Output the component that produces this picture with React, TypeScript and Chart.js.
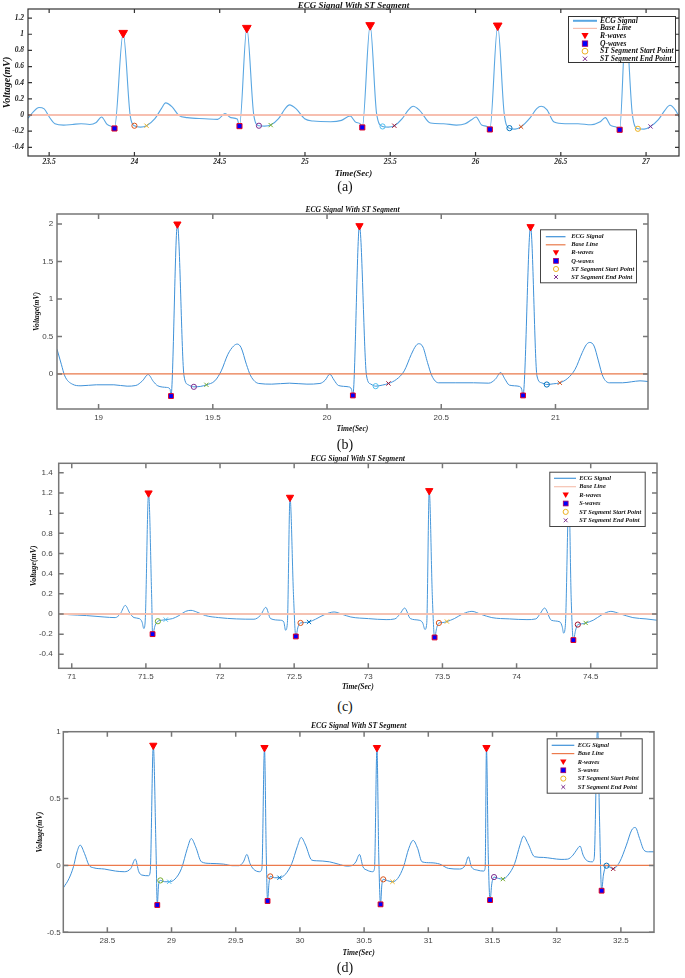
import React, { useEffect, useRef } from 'react';
import { Chart, registerables } from 'chart.js';

Chart.register(...registerables);

type Pt = [number, number];

// ---------------- Panel (a) ----------------
const ECG_A: Pt[] = [
  [23.376,-0.04],[23.407,0.038],[23.44,0.092],[23.471,0.075],[23.501,-0.025],[23.534,-0.108],[23.585,-0.125],[23.636,-0.117],[23.687,-0.108],[23.738,-0.117],[23.776,-0.092],[23.807,-0.025],[23.84,-0.117],[23.873,-0.15],[23.883,-0.167],[23.934,1.017],[23.975,-0.004],[24.0,-0.133],[24.036,-0.15],[24.071,-0.133],[24.12,-0.046],[24.158,0.079],[24.183,0.15],[24.221,0.1],[24.26,-0.004],[24.31,-0.033],[24.412,-0.046],[24.488,-0.054],[24.531,0.017],[24.565,-0.033],[24.603,-0.05],[24.616,-0.138],[24.659,1.079],[24.7,-0.004],[24.73,-0.133],[24.763,-0.138],[24.799,-0.125],[24.845,-0.046],[24.884,0.079],[24.909,0.125],[24.947,0.079],[24.998,-0.046],[25.048,-0.075],[25.15,-0.083],[25.214,-0.067],[25.265,-0.013],[25.297,-0.088],[25.323,-0.108],[25.336,-0.154],[25.382,1.113],[25.42,0.017],[25.455,-0.142],[25.488,-0.15],[25.524,-0.133],[25.57,-0.046],[25.608,0.067],[25.634,0.108],[25.672,0.058],[25.736,-0.1],[25.812,-0.108],[25.888,-0.125],[25.939,-0.108],[25.977,-0.058],[26.003,-0.025],[26.036,-0.125],[26.067,-0.142],[26.084,-0.179],[26.13,1.108],[26.168,0.017],[26.199,-0.163],[26.232,-0.175],[26.267,-0.146],[26.321,-0.033],[26.359,0.079],[26.385,0.108],[26.418,0.067],[26.461,-0.088],[26.525,-0.108],[26.601,-0.108],[26.677,-0.121],[26.728,-0.088],[26.761,-0.033],[26.792,-0.129],[26.825,-0.15],[26.845,-0.183],[26.881,1.1],[26.919,0.017],[26.952,-0.171],[26.988,-0.175],[27.026,-0.142],[27.072,-0.058],[27.11,0.058],[27.14,0.121],[27.173,0.058],[27.194,-0.025]
];
const R_A: Pt[] = [[23.934,1.017],[24.659,1.079],[25.382,1.113],[26.13,1.108],[26.881,1.1]];
const Q_A: Pt[] = [[23.883,-0.167],[24.616,-0.138],[25.336,-0.154],[26.084,-0.179],[26.845,-0.183]];
const STS_A: Pt[] = [[24.0,-0.133],[24.73,-0.133],[25.455,-0.142],[26.199,-0.163],[26.952,-0.171]];
const STE_A: Pt[] = [[24.071,-0.133],[24.799,-0.125],[25.524,-0.133],[26.267,-0.146],[27.026,-0.142]];
const STS_A_COLORS = ['#D95319','#7E2F8E','#4DBEEE','#0072BD','#EDB120'];
const STE_A_COLORS = ['#EDB120','#77AC30','#A2142F','#D95319','#7E2F8E'];

// ---------------- Panel (b) ----------------
const ECG_B: Pt[] = [
  [18.818,0.33],[18.837,0.128],[18.852,-0.027],[18.885,-0.137],[18.923,-0.159],[18.99,-0.146],[19.067,-0.146],[19.125,-0.164],[19.163,-0.155],[19.192,-0.093],[19.217,-0.009],[19.24,-0.102],[19.259,-0.159],[19.298,-0.181],[19.313,-0.204],[19.317,-0.296],[19.345,2.0],[19.374,-0.027],[19.393,-0.146],[19.417,-0.173],[19.445,-0.168],[19.472,-0.146],[19.509,-0.093],[19.537,0.04],[19.566,0.261],[19.591,0.372],[19.607,0.398],[19.624,0.35],[19.647,0.128],[19.666,-0.027],[19.701,-0.128],[19.758,-0.137],[19.835,-0.124],[19.912,-0.137],[19.969,-0.128],[19.992,-0.084],[20.012,-0.004],[20.031,-0.084],[20.05,-0.155],[20.094,-0.173],[20.107,-0.204],[20.113,-0.288],[20.142,1.978],[20.173,-0.027],[20.192,-0.137],[20.213,-0.164],[20.242,-0.15],[20.269,-0.128],[20.305,-0.071],[20.338,0.04],[20.369,0.261],[20.388,0.372],[20.401,0.403],[20.42,0.358],[20.44,0.15],[20.459,-0.027],[20.488,-0.119],[20.564,-0.119],[20.641,-0.119],[20.708,-0.124],[20.737,-0.071],[20.76,0.018],[20.779,-0.071],[20.798,-0.15],[20.843,-0.168],[20.852,-0.204],[20.858,-0.288],[20.891,1.965],[20.919,-0.027],[20.939,-0.119],[20.962,-0.142],[20.99,-0.133],[21.019,-0.119],[21.054,-0.058],[21.086,0.062],[21.117,0.283],[21.136,0.394],[21.15,0.42],[21.169,0.372],[21.188,0.173],[21.207,-0.031],[21.236,-0.119],[21.294,-0.119],[21.332,-0.106],[21.37,-0.093],[21.405,-0.102]
];
const R_B: Pt[] = [[19.345,2.0],[20.142,1.978],[20.891,1.965]];
const Q_B: Pt[] = [[19.317,-0.296],[20.113,-0.288],[20.858,-0.288]];
const STS_B: Pt[] = [[19.417,-0.173],[20.213,-0.164],[20.962,-0.142]];
const STE_B: Pt[] = [[19.472,-0.146],[20.269,-0.128],[21.019,-0.119]];
const STS_B_COLORS = ['#7E2F8E','#4DBEEE','#0072BD'];
const STE_B_COLORS = ['#77AC30','#A2142F','#D95319'];

// ---------------- Panel (c) ----------------
const ECG_C: Pt[] = [
  [70.912,0.003],[70.981,-0.007],[71.1,-0.016],[71.218,-0.03],[71.293,-0.036],[71.328,0.003],[71.361,0.085],[71.391,0.01],[71.42,-0.036],[71.456,-0.046],[71.474,-0.079],[71.486,-0.144],[71.495,-0.079],[71.518,1.2],[71.539,0.167],[71.545,-0.2],[71.563,-0.111],[71.581,-0.072],[71.608,-0.062],[71.634,-0.056],[71.679,-0.046],[71.723,-0.016],[71.768,0.026],[71.804,0.036],[71.842,0.02],[71.902,-0.016],[71.991,-0.036],[72.11,-0.049],[72.229,-0.052],[72.273,-0.013],[72.309,0.066],[72.341,-0.046],[72.407,-0.062],[72.43,-0.079],[72.442,-0.161],[72.454,-0.095],[72.472,1.157],[72.496,0.167],[72.511,-0.223],[72.526,-0.128],[72.543,-0.089],[72.57,-0.085],[72.6,-0.079],[72.644,-0.052],[72.704,-0.007],[72.769,0.02],[72.823,-0.003],[72.882,-0.03],[73.001,-0.046],[73.12,-0.056],[73.179,-0.049],[73.215,0.003],[73.245,0.059],[73.284,-0.046],[73.343,-0.062],[73.367,-0.089],[73.382,-0.154],[73.394,-0.095],[73.411,1.223],[73.432,0.167],[73.447,-0.233],[73.462,-0.134],[73.476,-0.089],[73.503,-0.085],[73.53,-0.075],[73.58,-0.046],[73.64,0.003],[73.699,0.026],[73.759,-0.003],[73.833,-0.036],[73.952,-0.049],[74.07,-0.056],[74.13,-0.049],[74.159,0.003],[74.189,0.059],[74.234,-0.062],[74.293,-0.079],[74.308,-0.128],[74.317,-0.19],[74.329,-0.111],[74.353,1.18],[74.368,0.167],[74.383,-0.259],[74.398,-0.161],[74.413,-0.105],[74.44,-0.098],[74.466,-0.089],[74.517,-0.062],[74.576,-0.007],[74.636,0.026],[74.695,0.003],[74.784,-0.036],[74.873,-0.049],[74.947,-0.062]
];
const R_C: Pt[] = [[71.518,1.2],[72.472,1.157],[73.411,1.223],[74.353,1.18]];
const S_C: Pt[] = [[71.545,-0.2],[72.511,-0.223],[73.447,-0.233],[74.383,-0.259]];
const STS_C: Pt[] = [[71.581,-0.072],[72.543,-0.089],[73.476,-0.089],[74.413,-0.105]];
const STE_C: Pt[] = [[71.634,-0.056],[72.6,-0.079],[73.53,-0.075],[74.466,-0.089]];
const STS_C_COLORS = ['#77AC30','#D95319','#D95319','#A2142F'];
const STE_C_COLORS = ['#4DBEEE','#0072BD','#EDB120','#77AC30'];

// ---------------- Panel (d) ----------------
const ECG_D: Pt[] = [
  [28.158,-0.167],[28.202,-0.097],[28.236,-0.01],[28.264,0.102],[28.288,0.152],[28.322,0.09],[28.357,0.002],[28.391,-0.017],[28.477,-0.027],[28.563,-0.042],[28.632,-0.047],[28.683,-0.022],[28.718,0.047],[28.745,-0.047],[28.769,-0.072],[28.821,-0.077],[28.834,-0.047],[28.858,0.898],[28.879,0.127],[28.889,-0.296],[28.899,-0.147],[28.913,-0.112],[28.947,-0.122],[28.982,-0.122],[29.027,-0.102],[29.078,-0.022],[29.123,0.127],[29.154,0.201],[29.188,0.139],[29.233,0.027],[29.302,0.015],[29.405,0.01],[29.474,-0.002],[29.525,-0.002],[29.56,0.027],[29.587,0.082],[29.611,0.015],[29.638,-0.027],[29.686,-0.047],[29.704,-0.022],[29.724,0.881],[29.738,0.077],[29.748,-0.266],[29.759,-0.134],[29.769,-0.082],[29.803,-0.092],[29.841,-0.092],[29.886,-0.067],[29.937,0.015],[29.979,0.139],[30.01,0.209],[30.044,0.152],[30.092,0.04],[30.127,0.035],[30.23,0.027],[30.298,0.01],[30.367,-0.005],[30.402,-0.002],[30.436,0.027],[30.464,0.082],[30.491,-0.01],[30.522,-0.035],[30.567,-0.047],[30.581,-0.022],[30.6,0.881],[30.614,0.077],[30.628,-0.291],[30.638,-0.147],[30.649,-0.104],[30.683,-0.114],[30.721,-0.122],[30.762,-0.097],[30.807,-0.01],[30.848,0.127],[30.882,0.187],[30.917,0.127],[30.951,0.027],[31.02,0.02],[31.089,0.01],[31.157,-0.022],[31.243,-0.027],[31.288,0.002],[31.312,0.065],[31.336,-0.01],[31.381,-0.035],[31.432,-0.042],[31.443,-0.017],[31.453,0.881],[31.467,0.077],[31.481,-0.259],[31.495,-0.134],[31.512,-0.087],[31.546,-0.097],[31.581,-0.102],[31.622,-0.072],[31.673,0.015],[31.714,0.152],[31.742,0.219],[31.776,0.164],[31.828,0.065],[31.896,0.06],[31.965,0.052],[32.034,0.045],[32.085,0.047],[32.127,0.077],[32.154,0.114],[32.182,0.144],[32.206,0.077],[32.23,0.04],[32.275,0.027],[32.292,0.052],[32.319,1.05],[32.333,0.376],[32.35,-0.189],[32.364,-0.072],[32.388,-0.002],[32.44,-0.025],[32.491,0.027],[32.543,0.152],[32.584,0.264],[32.612,0.284],[32.646,0.201],[32.68,0.114],[32.715,0.102],[32.756,0.102]
];
const R_D: Pt[] = [[28.858,0.898],[29.724,0.881],[30.6,0.881],[31.453,0.881],[32.319,1.05]];
const S_D: Pt[] = [[28.889,-0.296],[29.748,-0.266],[30.628,-0.291],[31.481,-0.259],[32.35,-0.189]];
const STS_D: Pt[] = [[28.913,-0.112],[29.769,-0.082],[30.649,-0.104],[31.512,-0.087],[32.388,-0.002]];
const STE_D: Pt[] = [[28.982,-0.122],[29.841,-0.092],[30.721,-0.122],[31.581,-0.102],[32.44,-0.025]];
const STS_D_COLORS = ['#77AC30','#D95319','#D95319','#7E2F8E','#0072BD'];
const STE_D_COLORS = ['#4DBEEE','#0072BD','#EDB120','#77AC30','#A2142F'];

// ---------------- Text ----------------
const TITLE = 'ECG Signal With ST Segment';
const X_TITLE = 'Time(Sec)';
const Y_TITLE = 'Voltage(mV)';
const LEGEND_Q = ['ECG Signal', 'Base Line', 'R-waves', 'Q-waves', 'ST Segment Start Point', 'ST Segment End Point'];
const LEGEND_S = ['ECG Signal', 'Base Line', 'R-waves', 'S-waves', 'ST Segment Start Point', 'ST Segment End Point'];
const CAPTIONS = ['(a)', '(b)', '(c)', '(d)'];

const SERIF = '"Liberation Serif", "Times New Roman", serif';
const SANS = '"Liberation Sans", Arial, sans-serif';
const W = 685;

const framePlugin = {
  id: 'ecgFrame',
  afterDatasetsDraw(chart: any, _a: any, o: any) {
    const { ctx, chartArea: ca } = chart;
    const xs = chart.scales.x;
    const ys = chart.scales.y;
    ctx.save();
    ctx.strokeStyle = o.color;
    ctx.lineWidth = o.width;
    ctx.beginPath();
    for (const t of xs.ticks) {
      const px = xs.getPixelForValue(t.value);
      ctx.moveTo(px, ca.bottom); ctx.lineTo(px, ca.bottom - o.len);
      ctx.moveTo(px, ca.top); ctx.lineTo(px, ca.top + o.len);
    }
    for (const t of ys.ticks) {
      const py = ys.getPixelForValue(t.value);
      ctx.moveTo(ca.left, py); ctx.lineTo(ca.left + o.len, py);
      ctx.moveTo(ca.right, py); ctx.lineTo(ca.right - o.len, py);
    }
    ctx.stroke();
    ctx.strokeRect(ca.left, ca.top, ca.right - ca.left, ca.bottom - ca.top);
    ctx.restore();
  },
};

const legendPlugin = {
  id: 'ecgLegend',
  afterDraw(chart: any, _a: any, o: any) {
    const ctx = chart.ctx;
    const off = o.offsetY;
    const [x1, y1, x2, y2] = o.box;
    ctx.save();
    ctx.fillStyle = '#ffffff';
    ctx.fillRect(x1, y1 - off, x2 - x1, y2 - y1);
    ctx.strokeStyle = o.borderColor;
    ctx.lineWidth = 1;
    ctx.strokeRect(x1 + 0.5, y1 - off + 0.5, x2 - x1 - 1, y2 - y1 - 1);
    const mx = o.markX;
    o.labels.forEach((lab: string, i: number) => {
      const y = o.rows[i] - off;
      ctx.save();
      if (i === 0 || i === 1) {
        ctx.strokeStyle = i === 0 ? o.ecgColor : o.baseColor;
        ctx.lineWidth = i === 0 ? o.ecgLegendWidth : 1.2;
        ctx.beginPath();
        ctx.moveTo(o.lineX[0], y); ctx.lineTo(o.lineX[1], y);
        ctx.stroke();
      } else if (i === 2) {
        const s = o.mark;
        ctx.fillStyle = '#FF0000';
        ctx.beginPath();
        ctx.moveTo(mx - s, y - s * 0.8); ctx.lineTo(mx + s, y - s * 0.8); ctx.lineTo(mx, y + s * 0.9);
        ctx.closePath(); ctx.fill();
      } else if (i === 3) {
        const s = o.mark * 0.75;
        ctx.fillStyle = '#0000FF';
        ctx.strokeStyle = '#B00060';
        ctx.lineWidth = 0.8;
        ctx.fillRect(mx - s, y - s, 2 * s, 2 * s);
        ctx.strokeRect(mx - s, y - s, 2 * s, 2 * s);
      } else if (i === 4) {
        ctx.strokeStyle = '#EDB120';
        ctx.lineWidth = 1;
        ctx.beginPath(); ctx.arc(mx, y, o.mark * 0.8, 0, Math.PI * 2); ctx.stroke();
      } else {
        const s = o.mark * 0.6;
        ctx.strokeStyle = '#7E2F8E';
        ctx.lineWidth = 1;
        ctx.beginPath();
        ctx.moveTo(mx - s, y - s); ctx.lineTo(mx + s, y + s);
        ctx.moveTo(mx + s, y - s); ctx.lineTo(mx - s, y + s);
        ctx.stroke();
      }
      ctx.restore();
      ctx.font = o.font;
      ctx.fillStyle = '#111111';
      ctx.textAlign = 'left';
      ctx.textBaseline = 'middle';
      ctx.fillText(lab, o.textX, y);
    });
    ctx.restore();
  },
};

type Panel = {
  top: number; height: number; L: number; R: number; T: number; B: number;
  xMin: number; xMax: number; yMin: number; yMax: number; yStep: number;
  ecg: Pt[]; r: Pt[]; qs: Pt[]; sts: Pt[]; ste: Pt[]; stsColors: string[]; steColors: string[];
  legendLabels: string[];
  titleSize: number; titlePad: { top: number; bottom: number };
  tickFont: any; tickColor: string; xTickPad: number; yTickPad: number;
  axisTitleFont: any; xTitlePadBottom: number; yTitleSize: number; yTitlePadTop: number;
  ecgColor: string; ecgWidth: number; baseColor: string; baseWidth: number;
  frameColor: string; frameWidth: number; tickLen: number;
  rRadius: number; qRadius: number; stRadius: number;
  legend: { box: number[]; rows: number[]; lineX: number[]; markX: number; textX: number; font: string; mark: number; border: string; ecgW: number };
};

const fmt = (v: any) => String(Math.round(Number(v) * 1000) / 1000);

const PANELS: Panel[] = [
  {
    top: 0, height: 182, L: 28, R: 683, T: 9, B: 156,
    xMin: 23.376, xMax: 27.193, yMin: -0.508, yMax: 1.313, yStep: 0.2,
    ecg: ECG_A, r: R_A, qs: Q_A, sts: STS_A, ste: STE_A, stsColors: STS_A_COLORS, steColors: STE_A_COLORS,
    legendLabels: LEGEND_Q,
    titleSize: 9, titlePad: { top: 1, bottom: -1 },
    tickFont: { family: SERIF, size: 7.5, weight: 'bold', style: 'italic', lineHeight: 1 }, tickColor: '#222',
    xTickPad: 2.5, yTickPad: 4,
    axisTitleFont: { family: SERIF, size: 9, weight: 'bold', style: 'italic', lineHeight: 1 },
    xTitlePadBottom: 3.5, yTitleSize: 10, yTitlePadTop: 2,
    ecgColor: '#5AA7E2', ecgWidth: 1.1, baseColor: '#F7BFB0', baseWidth: 2,
    frameColor: '#333', frameWidth: 1.2, tickLen: 4,
    rRadius: 5, qRadius: 3.6, stRadius: 2.6,
    legend: { box: [568, 16, 676, 63], rows: [20.8, 28.4, 36, 43.6, 51.2, 58.8], lineX: [573, 597], markX: 585, textX: 600,
      font: 'italic bold 7.6px ' + SERIF, mark: 3.6, border: '#333', ecgW: 2 },
  },
  {
    top: 200, height: 236, L: 57, R: 648, T: 214, B: 409,
    xMin: 18.818, xMax: 21.405, yMin: -0.469, yMax: 2.135, yStep: 0.5,
    ecg: ECG_B, r: R_B, qs: Q_B, sts: STS_B, ste: STE_B, stsColors: STS_B_COLORS, steColors: STE_B_COLORS,
    legendLabels: LEGEND_Q,
    titleSize: 7.6, titlePad: { top: 6.2, bottom: 0.2 },
    tickFont: { family: SANS, size: 8, lineHeight: 1 }, tickColor: '#444',
    xTickPad: 4.3, yTickPad: 3.7,
    axisTitleFont: { family: SERIF, size: 7.6, weight: 'bold', style: 'italic', lineHeight: 1 },
    xTitlePadBottom: 3.2, yTitleSize: 7.6, yTitlePadTop: 33.5,
    ecgColor: '#3F91D8', ecgWidth: 1, baseColor: '#E9794A', baseWidth: 1.2,
    frameColor: '#777', frameWidth: 1.5, tickLen: 5,
    rRadius: 4.2, qRadius: 3.4, stRadius: 2.6,
    legend: { box: [540, 229.3, 637, 283.3], rows: [236.7, 244.8, 252.8, 260.9, 269, 277], lineX: [545.8, 565.5], markX: 556, textX: 571.2,
      font: 'italic bold 6.5px ' + SERIF, mark: 3.2, border: '#444', ecgW: 1.2 },
  },
  {
    top: 450, height: 242, L: 58.7, R: 657, T: 463.3, B: 668.3,
    xMin: 70.912, xMax: 74.947, yMin: -0.539, yMax: 1.495, yStep: 0.2,
    ecg: ECG_C, r: R_C, qs: S_C, sts: STS_C, ste: STE_C, stsColors: STS_C_COLORS, steColors: STE_C_COLORS,
    legendLabels: LEGEND_S,
    titleSize: 7.6, titlePad: { top: 5.2, bottom: 0.5 },
    tickFont: { family: SANS, size: 8, lineHeight: 1 }, tickColor: '#444',
    xTickPad: 4, yTickPad: 6,
    axisTitleFont: { family: SERIF, size: 7.6, weight: 'bold', style: 'italic', lineHeight: 1 },
    xTitlePadBottom: 0.9, yTitleSize: 7.9, yTitlePadTop: 29.6,
    ecgColor: '#4898DA', ecgWidth: 1, baseColor: '#F5C2B2', baseWidth: 2,
    frameColor: '#777', frameWidth: 1.5, tickLen: 5,
    rRadius: 4.2, qRadius: 3.4, stRadius: 2.6,
    legend: { box: [549.3, 471.7, 645.7, 527], rows: [478.3, 486.7, 495.1, 503.5, 511.9, 520.3], lineX: [554, 576], markX: 565.7, textX: 579.3,
      font: 'italic bold 6.4px ' + SERIF, mark: 3.2, border: '#444', ecgW: 1.2 },
  },
  {
    top: 716, height: 244, L: 63.3, R: 654, T: 731.7, B: 932.3,
    xMin: 28.157, xMax: 32.758, yMin: -0.5, yMax: 1, yStep: 0.5,
    ecg: ECG_D, r: R_D, qs: S_D, sts: STS_D, ste: STE_D, stsColors: STS_D_COLORS, steColors: STE_D_COLORS,
    legendLabels: LEGEND_S,
    titleSize: 7.7, titlePad: { top: 5.85, bottom: 2.15 },
    tickFont: { family: SANS, size: 8, lineHeight: 1 }, tickColor: '#444',
    xTickPad: 4.7, yTickPad: 2.6,
    axisTitleFont: { family: SERIF, size: 7.7, weight: 'bold', style: 'italic', lineHeight: 1 },
    xTitlePadBottom: 3.2, yTitleSize: 7.9, yTitlePadTop: 36.4,
    ecgColor: '#3F91D8', ecgWidth: 1, baseColor: '#EC7A4C', baseWidth: 1.2,
    frameColor: '#777', frameWidth: 1.5, tickLen: 5,
    rRadius: 4.2, qRadius: 3.4, stRadius: 2.6,
    legend: { box: [546.7, 738.3, 642.7, 793.7], rows: [745.3, 753.6, 762, 770.3, 778.6, 787], lineX: [551.7, 574.3], markX: 563.3, textX: 577.7,
      font: 'italic bold 6.3px ' + SERIF, mark: 3.2, border: '#444', ecgW: 1.2 },
  },
];

const CAPTION_Y = [187, 445, 706.7, 968];

function xy(a: Pt[]) {
  return a.map(([x, y]) => ({ x, y }));
}

function makeChart(canvas: HTMLCanvasElement, p: Panel) {
  const relB = p.B - p.top;
  return new Chart(canvas, {
    type: 'scatter',
    data: {
      datasets: [
        {
          label: 'R-waves', data: xy(p.r), pointStyle: 'triangle', pointRotation: 180, pointRadius: p.rRadius,
          pointBackgroundColor: '#FF0000', pointBorderColor: '#FF0000', pointBorderWidth: 1, order: 0,
        },
        {
          label: p.legendLabels[3], data: xy(p.qs), pointStyle: 'rect', pointRadius: p.qRadius,
          pointBackgroundColor: '#0000FF', pointBorderColor: '#E00020', pointBorderWidth: 1, order: 0,
        },
        {
          label: 'ST Segment Start Point', data: xy(p.sts), pointStyle: 'circle', pointRadius: p.stRadius,
          pointBackgroundColor: 'rgba(0,0,0,0)', pointBorderColor: p.stsColors, pointBorderWidth: 1, order: 0,
        },
        {
          label: 'ST Segment End Point', data: xy(p.ste), pointStyle: 'crossRot', pointRadius: 3,
          pointBorderColor: p.steColors, pointBorderWidth: 1, order: 0,
        },
        {
          label: 'Base Line', data: [{ x: p.xMin, y: 0 }, { x: p.xMax, y: 0 }], showLine: true, pointRadius: 0,
          borderColor: p.baseColor, borderWidth: p.baseWidth, order: 1,
        },
        {
          label: 'ECG Signal', data: xy(p.ecg), showLine: true, pointRadius: 0,
          borderColor: p.ecgColor, borderWidth: p.ecgWidth, cubicInterpolationMode: 'monotone', order: 2,
        },
      ],
    } as any,
    options: {
      animation: false,
      responsive: false,
      events: [],
      layout: { padding: { left: 0, top: 0, bottom: 0, right: W - p.R } },
      plugins: {
        legend: { display: false },
        tooltip: { enabled: false },
        title: {
          display: true, text: TITLE, fullSize: false, color: '#111',
          font: { family: SERIF, size: p.titleSize, weight: 'bold', style: 'italic', lineHeight: 1 },
          padding: p.titlePad,
        },
        ecgFrame: { color: p.frameColor, width: p.frameWidth, len: p.tickLen },
        ecgLegend: {
          offsetY: p.top, box: p.legend.box, rows: p.legend.rows, lineX: p.legend.lineX, markX: p.legend.markX,
          textX: p.legend.textX, font: p.legend.font, mark: p.legend.mark, borderColor: p.legend.border,
          labels: p.legendLabels, ecgColor: p.ecgColor, baseColor: p.baseColor, ecgLegendWidth: p.legend.ecgW,
        },
      },
      scales: {
        x: {
          type: 'linear', position: 'bottom', min: p.xMin, max: p.xMax,
          grid: { display: false, drawTicks: false, tickLength: 0 }, border: { display: false },
          ticks: {
            stepSize: 0.5, includeBounds: false, autoSkip: false, maxRotation: 0,
            font: p.tickFont, color: p.tickColor, padding: p.xTickPad, callback: fmt,
          },
          title: {
            display: true, text: X_TITLE, color: '#111', font: p.axisTitleFont,
            padding: { top: 0, bottom: p.xTitlePadBottom },
          },
          afterFit: (s: any) => { s.height = p.height - relB; },
        },
        y: {
          type: 'linear', position: 'left', min: p.yMin, max: p.yMax,
          grid: { display: false, drawTicks: false, tickLength: 0 }, border: { display: false },
          ticks: {
            stepSize: p.yStep, includeBounds: false, autoSkip: false,
            font: p.tickFont, color: p.tickColor, padding: p.yTickPad, callback: fmt,
          },
          title: {
            display: true, text: Y_TITLE, color: '#111',
            font: { family: SERIF, size: p.yTitleSize, weight: 'bold', style: 'italic', lineHeight: 1 },
            padding: { top: p.yTitlePadTop, bottom: 0 },
          },
          afterFit: (s: any) => { s.width = p.L; },
        },
      },
    } as any,
    plugins: [framePlugin, legendPlugin] as any,
  });
}

function PanelChart({ p }: { p: Panel }) {
  const ref = useRef<HTMLCanvasElement>(null);
  useEffect(() => {
    if (!ref.current) return;
    const chart = makeChart(ref.current, p);
    return () => chart.destroy();
  }, [p]);
  return (
    <div style={{ position: 'absolute', left: 0, top: p.top, width: W, height: p.height }}>
      <canvas ref={ref} width={W} height={p.height} style={{ display: 'block', width: W, height: p.height }} />
    </div>
  );
}

export default function App() {
  return (
    <div style={{ position: 'absolute', left: 0, top: 0, width: W, height: 978, background: '#ffffff', overflow: 'hidden' }}>
      {PANELS.map((p, i) => (
        <PanelChart key={i} p={p} />
      ))}
      {CAPTIONS.map((c, i) => (
        <div
          key={c}
          style={{
            position: 'absolute', left: 295, width: 100, top: CAPTION_Y[i] - 9, height: 18, lineHeight: '18px',
            textAlign: 'center', fontFamily: SERIF, fontSize: 14, color: '#111',
          }}
        >
          {c}
        </div>
      ))}
    </div>
  );
}
